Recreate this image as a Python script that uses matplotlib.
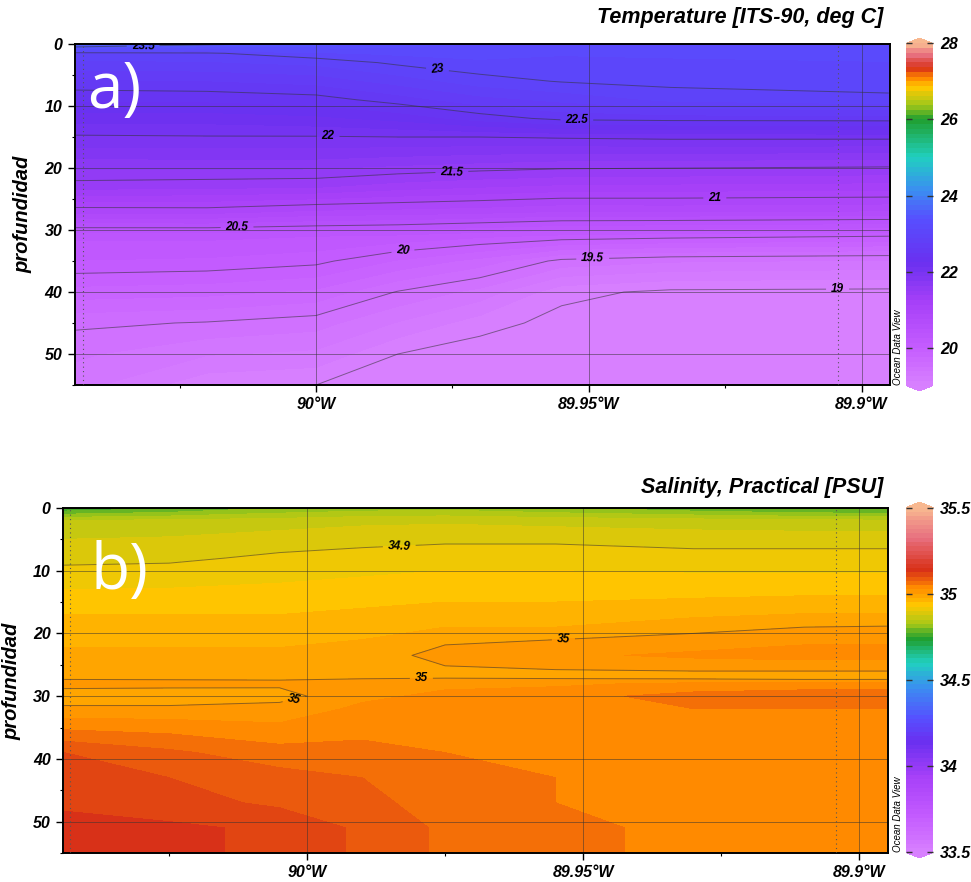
import numpy as np
import matplotlib
matplotlib.use("Agg")
import matplotlib.pyplot as plt
from matplotlib.colors import LinearSegmentedColormap
from matplotlib.ticker import FixedLocator, FuncFormatter, MultipleLocator

plt.rcParams['font.family'] = ['Liberation Sans', 'DejaVu Sans']

# ---- temperature section: station longitudes, sample depths, values per station
temp_lon = [-90.044, -90.02, -90.0, -89.985, -89.97, -89.955, -89.935, -89.895]
temp_depth = [0, 1.5, 3, 6, 9, 12, 15, 19, 23, 27, 31, 35, 40, 45, 50, 55]
temp_by_station = [
    [23.75, 22.95, 22.85, 22.60, 22.39, 22.18, 21.98, 21.72, 21.43, 20.92, 20.28, 20.12, 19.82, 19.53, 19.40, 19.30],
    [23.55, 22.98, 22.86, 22.62, 22.40, 22.18, 21.99, 21.72, 21.41, 20.93, 20.28, 20.10, 19.79, 19.49, 19.26, 19.04],
    [23.45, 23.10, 22.91, 22.67, 22.44, 22.22, 21.99, 21.72, 21.39, 20.85, 20.25, 20.04, 19.72, 19.43, 19.22, 19.00],
    [23.30, 23.15, 23.03, 22.80, 22.56, 22.29, 22.00, 21.68, 21.31, 20.83, 20.22, 19.86, 19.49, 19.24, 19.00, 18.90],
    [23.25, 23.17, 23.10, 22.94, 22.70, 22.43, 22.00, 21.64, 21.26, 20.80, 20.15, 19.70, 19.33, 19.06, 18.92, 18.86],
    [23.20, 23.14, 23.08, 23.01, 22.78, 22.54, 22.02, 21.61, 21.22, 20.75, 20.09, 19.46, 19.04, 18.95, 18.88, 18.85],
    [23.20, 23.15, 23.10, 23.05, 22.90, 22.56, 22.04, 21.60, 21.21, 20.76, 20.05, 19.39, 18.97, 18.90, 18.87, 18.85],
    [23.20, 23.16, 23.12, 23.07, 22.96, 22.57, 22.04, 21.58, 21.19, 20.74, 20.00, 19.36, 18.96, 18.90, 18.87, 18.85],
]
temp_casts = [-90.0427, -89.9044]
temp_label_pos = [(-90.0317, 0.6), (-89.9778, 4.5), (-89.9522, 12.6), (-89.9978, 14.7),
                  (-89.9751, 20.8), (-89.9269, 25.2), (-90.0145, 29.5), (-89.9841, 33.2),
                  (-89.9493, 34.0), (-89.9044, 38.9)]

# ---- salinity section
sal_lon = [-90.044, -90.025, -90.005, -89.99, -89.975, -89.955, -89.93, -89.91, -89.895]
sal_depth = [0, 2, 5, 8, 12, 16, 19, 21, 23.5, 26, 27, 28, 30, 32, 35, 39, 43, 47, 51, 55]
sal_by_station = [
    [34.75, 34.85, 34.875, 34.893, 34.918, 34.945, 34.96, 34.97, 34.98, 34.99, 34.995, 35.01, 34.985, 35.005, 35.045, 35.10, 35.105, 35.12, 35.135, 35.135],
    [34.77, 34.855, 34.878, 34.895, 34.92, 34.945, 34.96, 34.97, 34.98, 34.99, 34.995, 35.008, 34.985, 35.005, 35.04, 35.08, 35.10, 35.11, 35.13, 35.13],
    [34.80, 34.86, 34.888, 34.905, 34.925, 34.945, 34.96, 34.97, 34.98, 34.99, 34.996, 35.005, 34.99, 35.01, 35.03, 35.06, 35.085, 35.095, 35.12, 35.12],
    [34.81, 34.868, 34.892, 34.91, 34.93, 34.95, 34.965, 34.975, 34.985, 34.992, 34.997, 35.01, 35.02, 35.03, 35.04, 35.06, 35.075, 35.085, 35.095, 35.095],
    [34.815, 34.87, 34.895, 34.915, 34.935, 34.955, 34.975, 34.995, 35.01, 34.995, 34.997, 35.02, 35.03, 35.04, 35.04, 35.05, 35.06, 35.06, 35.07, 35.07],
    [34.80, 34.865, 34.895, 34.915, 34.935, 34.955, 34.975, 35.00, 35.02, 34.998, 34.995, 35.02, 35.04, 35.04, 35.035, 35.045, 35.05, 35.05, 35.055, 35.055],
    [34.78, 34.86, 34.89, 34.91, 34.935, 34.96, 34.99, 35.01, 35.03, 35.00, 34.99, 35.03, 35.06, 35.05, 35.04, 35.04, 35.045, 35.045, 35.045, 35.045],
    [34.765, 34.855, 34.89, 34.91, 34.935, 34.965, 35.00, 35.02, 35.035, 35.00, 34.985, 35.03, 35.07, 35.05, 35.04, 35.04, 35.04, 35.04, 35.04, 35.04],
    [34.76, 34.853, 34.89, 34.91, 34.935, 34.965, 35.002, 35.02, 35.035, 35.00, 34.985, 35.03, 35.07, 35.05, 35.04, 35.04, 35.04, 35.04, 35.04, 35.04],
]
sal_casts = [-90.043, -89.9043]
sal_label_pos = [(-89.9833, 6.2), (-89.9536, 20.5), (-89.9793, 27.4), (-90.0022, 31.2)]

# ODV-like palette, from low to high
odv_colours = ['#d880ff', '#c45cff', '#a640f8', '#6a30f0', '#5650ff', '#3a90f0', '#20d0c0',
               '#20a030', '#a8c818', '#ffc800', '#ff8800', '#d83018', '#e87080', '#f8b890']
temp_stops = [0, 0.111, 0.244, 0.36, 0.49, 0.575, 0.667, 0.778, 0.825, 0.872, 0.9, 0.93, 0.97, 1.0]
sal_stops = [0, 0.1, 0.22, 0.32, 0.39, 0.48, 0.55, 0.62, 0.665, 0.715, 0.77, 0.82, 0.915, 1.0]


def odv_cmap(stops):
    cm = LinearSegmentedColormap.from_list('odv', list(zip(stops, odv_colours)))
    cm.set_under(odv_colours[0])
    cm.set_over(odv_colours[-1])
    return cm


def lon_fmt(v, pos):
    return f"{abs(v):g}°W"


bold_it = dict(fontweight='bold', fontstyle='italic')


def draw_section(ax, cax, lon, depth, by_station, levels, line_levels, cmap,
                 cticks, label_pos, casts):
    X, Z = np.meshgrid(lon, depth)
    V = np.array(by_station).T
    cf = ax.contourf(X, Z, V, levels=levels, cmap=cmap, extend='both')
    cs = ax.contour(X, Z, V, levels=line_levels, colors='#333333', linewidths=0.7, alpha=0.55)
    txt = ax.clabel(cs, fmt='%g', fontsize=8.5, inline=True, inline_spacing=5, manual=label_pos)
    for t in txt:
        t.set_fontweight('bold')
        t.set_fontstyle('italic')
        t.set_color('black')
    for c in casts:
        ax.axvline(c, color='#555555', lw=0.8, ls=(0, (1, 3)), zorder=3)

    ax.set_xlim(-90.0442, -89.8948)
    ax.set_ylim(55, 0)
    ax.xaxis.set_major_locator(FixedLocator([-90.0, -89.95, -89.9]))
    ax.xaxis.set_minor_locator(FixedLocator([-90.025, -89.975, -89.925]))
    ax.xaxis.set_major_formatter(FuncFormatter(lon_fmt))
    ax.yaxis.set_major_locator(MultipleLocator(10))
    ax.yaxis.set_minor_locator(MultipleLocator(5))
    ax.grid(True, which='major', color='#333333', lw=0.6, alpha=0.6)
    ax.tick_params(which='major', direction='out', length=5, width=1, labelsize=11.5, pad=4)
    ax.tick_params(which='minor', direction='out', length=2.5, width=0.8)
    for lab in ax.get_xticklabels() + ax.get_yticklabels():
        lab.set_fontweight('bold')
        lab.set_fontstyle('italic')
    for sp in ax.spines.values():
        sp.set_linewidth(1.4)

    cb = plt.colorbar(cf, cax=cax, extend='both', extendfrac=0.016, ticks=cticks)
    cb.outline.set_visible(False)
    cb.ax.yaxis.set_major_formatter(FuncFormatter(lambda v, p: f"{v:g}"))
    cb.ax.tick_params(direction='in', left=True, right=True, length=4, width=1,
                      color='#333333', labelsize=11.5, pad=5)
    for lab in cb.ax.get_yticklabels():
        lab.set_fontweight('bold')
        lab.set_fontstyle('italic')
    cb.ax.minorticks_off()
    return cf


fig = plt.figure(figsize=(9.71, 8.82), dpi=100)

ax_t = fig.add_axes([0.0772, 0.5635, 0.8393, 0.3866])
cax_t = fig.add_axes([0.9331, 0.5567, 0.0278, 0.4002])
ax_s = fig.add_axes([0.0649, 0.0329, 0.8496, 0.3912])
cax_s = fig.add_axes([0.9331, 0.0272, 0.0278, 0.4036])

draw_section(ax_t, cax_t, temp_lon, temp_depth, temp_by_station,
             np.arange(19, 28.001, 0.125), np.arange(19, 23.6, 0.5),
             odv_cmap(temp_stops), [20, 22, 24, 26, 28], temp_label_pos, temp_casts)
draw_section(ax_s, cax_s, sal_lon, sal_depth, sal_by_station,
             np.arange(33.5, 35.5001, 0.025), [34.9, 35.0],
             odv_cmap(sal_stops), [33.5, 34, 34.5, 35, 35.5], sal_label_pos, sal_casts)

# titles
fig.text(883 / 971, 1 - 18 / 882, 'Temperature [ITS-90, deg C]', ha='right', va='center',
         fontsize=15.5, **bold_it)
fig.text(883 / 971, 1 - 487 / 882, 'Salinity, Practical [PSU]', ha='right', va='center',
         fontsize=15.5, **bold_it)

# depth axis labels
fig.text(23 / 971, 1 - 214 / 882, 'profundidad', rotation=90, ha='center', va='center',
         fontsize=14.5, **bold_it)
fig.text(12 / 971, 1 - 681 / 882, 'profundidad', rotation=90, ha='center', va='center',
         fontsize=14.5, **bold_it)

# panel tags
fig.text(0.090, 1 - 108 / 882, 'a)', color='white', fontsize=46, family='Open Sans',
         ha='left', va='baseline')
fig.text(0.093, 1 - 589 / 882, 'b)', color='white', fontsize=46, family='Open Sans',
         ha='left', va='baseline')

# software credit beside each colour bar
fig.text(898 / 971, 1 - 385 / 882, 'Ocean Data View', rotation=90, ha='center', va='bottom',
         fontsize=7, fontstyle='italic')
fig.text(898 / 971, 1 - 852 / 882, 'Ocean Data View', rotation=90, ha='center', va='bottom',
         fontsize=7, fontstyle='italic')

fig.savefig('out.png', dpi=100)
